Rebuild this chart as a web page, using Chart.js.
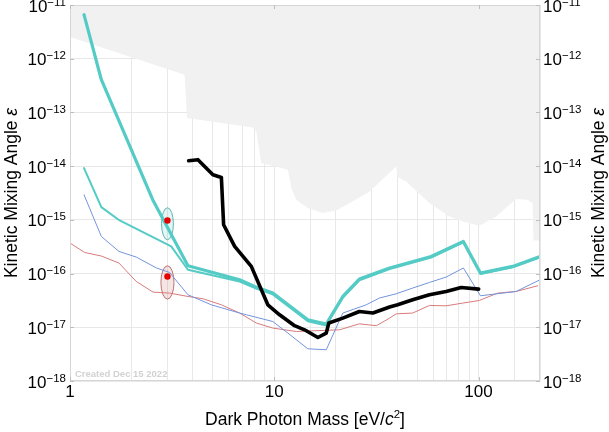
<!DOCTYPE html>
<html><head><meta charset="utf-8">
<script src="https://cdn.jsdelivr.net/npm/chart.js@4.4.0/dist/chart.umd.min.js"></script>
<style>html,body{margin:0;padding:0;background:#fff}</style>
</head><body>
<canvas id="c" width="609" height="432"></canvas>
<script>
// ---------- data ----------
const xTickValues = [1, 10, 100];
const yTickExponents = [-18, -17, -16, -15, -14, -13, -12, -11];
const watermarkText = "Created Dec 15 2022";

// excluded region boundary (filled up to top)
const excludedX = [1, 3.64, 3.74, 7.86, 8.17, 8.64, 11.66, 12.11, 12.81, 14.6, 17.29, 20.1, 23.4, 29.3, 39.5, 40.2, 44.2, 57.5, 72.1, 83.7, 101, 122, 152.8, 174, 184, 185.6, 200];
const excludedY = [2.54e-12, 5.04e-13, 7.87e-14, 5.26e-14, 4.43e-14, 1.14e-14, 8.57e-15, 3.91e-15, 2.37e-15, 1.66e-15, 1.34e-15, 1.50e-15, 2.06e-15, 3.38e-15, 9.87e-15, 6.27e-15, 5.19e-15, 2.06e-15, 1.16e-15, 9.33e-16, 7.76e-16, 1.16e-15, 2.44e-15, 2.37e-15, 2.06e-15, 4.13e-16, 4.13e-16];

// thick cyan projection
const cyanThickX = [1.171, 1.424, 2.54, 3.78, 6.77, 8.01, 9.84, 14.6, 17.97, 21.66, 26.1, 36.7, 58.6, 84.3, 102.2, 147, 200];
const cyanThickY = [6.6e-12, 4.06e-13, 2.37e-15, 1.40e-16, 7.67e-17, 5.75e-17, 4.33e-17, 1.38e-17, 1.15e-17, 3.75e-17, 7.9e-17, 1.27e-16, 2.08e-16, 3.96e-16, 1.02e-16, 1.36e-16, 2.08e-16];

// thin cyan projection
const cyanThinX = [1.171, 1.424, 1.75, 3.13, 3.78, 6.77, 8.01, 9.84, 14.6, 17.97, 21.66, 26.1, 36.7, 58.6, 84.3, 102.2, 147, 200];
const cyanThinY = [9.2e-15, 1.73e-15, 9.75e-16, 3.2e-16, 1.18e-16, 7.1e-17, 5.4e-17, 4.1e-17, 1.3e-17, 1.08e-17, 3.55e-17, 7.5e-17, 1.21e-16, 1.98e-16, 3.8e-16, 9.8e-17, 1.31e-16, 2.0e-16];

// black limit
const blackX = [3.81, 4.23, 5.01, 5.51, 5.65, 6.40, 7.72, 9.30, 10.62, 12.57, 14.07, 16.35, 17.97, 18.5, 21.66, 26.1, 30.4, 36.7, 40.2, 47.6, 57.5, 69.4, 82.2, 100.2];
const blackY = [1.26e-14, 1.32e-14, 6.92e-15, 6.16e-15, 8.1e-16, 3.2e-16, 1.36e-16, 2.62e-17, 1.71e-17, 1.07e-17, 8.98e-18, 6.46e-18, 7.8e-18, 1.20e-17, 1.48e-17, 1.97e-17, 1.84e-17, 2.38e-17, 2.62e-17, 3.25e-17, 4.03e-17, 4.64e-17, 5.5e-17, 5.14e-17];

// blue thin line
const blueX = [1.171, 1.424, 1.737, 2.11, 2.65, 3.07, 3.78, 4.92, 6.77, 7.30, 9.84, 11.66, 14.6, 17.97, 21.66, 28.2, 32.7, 39.5, 47.6, 57.5, 69.4, 84.3, 102.2, 152.8, 200];
const blueY = [2.93e-15, 4.91e-16, 2.58e-16, 2.03e-16, 1.27e-16, 1.05e-16, 4.03e-17, 2.62e-17, 1.84e-17, 1.71e-17, 1.28e-17, 7.8e-18, 3.98e-18, 3.81e-18, 1.84e-17, 2.62e-17, 3.5e-17, 4.2e-17, 5.37e-17, 6.83e-17, 8.6e-17, 1.27e-16, 3.86e-17, 4.64e-17, 7.67e-17];

// red thin line
const redX = [1, 1.18, 1.424, 1.737, 2.11, 2.55, 3.07, 3.78, 4.47, 5.51, 6.77, 8.17, 9.84, 12.81, 20.9, 26.1, 31.6, 36.7, 39.5, 47.6, 57.5, 69.4, 83.7, 101, 124, 152.8, 195];
const redY = [3.70e-16, 2.47e-16, 2.12e-16, 1.57e-16, 7.13e-17, 4.52e-17, 4.33e-17, 3.75e-17, 3.40e-17, 2.62e-17, 1.84e-17, 1.20e-17, 9.67e-18, 8.35e-18, 8.98e-18, 1.16e-17, 1.07e-17, 1.48e-17, 1.78e-17, 1.84e-17, 2.55e-17, 2.51e-17, 2.82e-17, 3.16e-17, 4.33e-17, 4.64e-17, 5.93e-17];

// signal points and their ellipses
const dotX = [3.0, 3.0];
const dotY = [9.75e-16, 8.8e-17];
const ellipseCenterX = [3.0, 3.0];
const ellipseCenterY = [8.45e-16, 6.84e-17];
const ellipseHalfWidthDex = [0.029, 0.032];
const ellipseHalfHeightDex = [0.298, 0.310];

// ---------- helpers ----------
const zip = (xs, ys) => xs.map((x, i) => ({x: x, y: ys[i]}));
const FONT = '"Liberation Sans", Arial, Helvetica, sans-serif';
const isDecade = v => { const l = Math.log10(v); return Math.abs(l - Math.round(l)) < 1e-6; };

function drawPow(ctx, x, y, exp, align) {
  const base = '10', sup = '\u2212' + Math.abs(exp);
  ctx.font = '17px ' + FONT;
  const wb = ctx.measureText(base).width;
  ctx.font = '11.5px ' + FONT;
  const ws = ctx.measureText(sup).width;
  let sx = align === 'right' ? x - wb - ws : x;
  ctx.textAlign = 'left';
  ctx.textBaseline = 'alphabetic';
  ctx.font = '17px ' + FONT;
  ctx.fillText(base, sx, y + 6.5);
  ctx.font = '11.5px ' + FONT;
  ctx.fillText(sup, sx + wb, y + 0.5);
}

function drawYTitle(ctx, cx, cy) {
  ctx.save();
  ctx.translate(cx, cy);
  ctx.rotate(-Math.PI / 2);
  const a = 'Kinetic Mixing Angle ', b = '\u03B5';
  ctx.font = '17.5px ' + FONT;
  const wa = ctx.measureText(a).width;
  ctx.font = 'italic 17.5px ' + FONT;
  const wb = ctx.measureText(b).width;
  const sx = -(wa + wb) / 2;
  ctx.textAlign = 'left';
  ctx.textBaseline = 'alphabetic';
  ctx.font = '17.5px ' + FONT;
  ctx.fillText(a, sx, 0);
  ctx.font = 'italic 17.5px ' + FONT;
  ctx.fillText(b, sx + wa, 0);
  ctx.restore();
}

const decor = {
  id: 'decor',
  beforeDatasetsDraw(chart) {
    const ctx = chart.ctx, xs = chart.scales.x, ys = chart.scales.y;
    const fills = ['rgba(82,201,195,0.16)', 'rgba(190,95,95,0.16)'];
    const strokes = ['rgba(70,170,165,0.85)', 'rgba(175,95,95,0.85)'];
    ctx.save();
    for (let i = 0; i < ellipseCenterX.length; i++) {
      const cx = xs.getPixelForValue(ellipseCenterX[i]);
      const cy = ys.getPixelForValue(ellipseCenterY[i]);
      const rx = xs.getPixelForValue(ellipseCenterX[i] * Math.pow(10, ellipseHalfWidthDex[i])) - cx;
      const ry = cy - ys.getPixelForValue(ellipseCenterY[i] * Math.pow(10, ellipseHalfHeightDex[i]));
      ctx.beginPath();
      ctx.ellipse(cx, cy, rx, ry, 0, 0, Math.PI * 2);
      ctx.fillStyle = fills[i];
      ctx.fill();
      ctx.lineWidth = 1;
      ctx.strokeStyle = strokes[i];
      ctx.stroke();
    }
    ctx.restore();
  },
  afterDatasetsDraw(chart) {
    const ctx = chart.ctx, a = chart.chartArea, xs = chart.scales.x, ys = chart.scales.y;
    ctx.save();
    ctx.strokeStyle = '#d6d6d6';
    ctx.lineWidth = 1;
    ctx.strokeRect(a.left + 0.5, a.top + 0.5, a.right - a.left - 1, a.bottom - a.top - 1);
    ctx.strokeStyle = '#bdbdbd';
    ctx.beginPath();
    xTickValues.forEach(v => {
      const px = Math.round(xs.getPixelForValue(v)) + 0.5;
      ctx.moveTo(px, a.top); ctx.lineTo(px, a.top + 4);
      ctx.moveTo(px, a.bottom); ctx.lineTo(px, a.bottom - 4);
    });
    yTickExponents.forEach(e => {
      const py = Math.round(ys.getPixelForValue(Math.pow(10, e))) + 0.5;
      ctx.moveTo(a.left, py); ctx.lineTo(a.left + 4, py);
      ctx.moveTo(a.right, py); ctx.lineTo(a.right - 4, py);
    });
    ctx.stroke();
    // watermark
    ctx.fillStyle = '#d2d2d2';
    ctx.font = 'bold 9.5px ' + FONT;
    ctx.textAlign = 'left';
    ctx.textBaseline = 'alphabetic';
    ctx.fillText(watermarkText, a.left + 5, a.bottom - 4);
    ctx.restore();
  },
  afterDraw(chart) {
    const ctx = chart.ctx, a = chart.chartArea, xs = chart.scales.x, ys = chart.scales.y;
    ctx.save();
    ctx.fillStyle = '#000';
    yTickExponents.forEach(e => {
      const py = ys.getPixelForValue(Math.pow(10, e));
      drawPow(ctx, a.left - 4, py, e, 'right');
      drawPow(ctx, a.right + 3, py, e, 'left');
    });
    ctx.font = '17px ' + FONT;
    ctx.textAlign = 'center';
    ctx.textBaseline = 'alphabetic';
    xTickValues.forEach(v => {
      ctx.fillText(String(v), xs.getPixelForValue(v), a.bottom + 16);
    });
    // x title
    const t1 = 'Dark Photon Mass [eV/', t2 = 'c', t3 = '2', t4 = ']';
    ctx.font = '17.5px ' + FONT; const w1 = ctx.measureText(t1).width, w4 = ctx.measureText(t4).width;
    ctx.font = 'italic 17.5px ' + FONT; const w2 = ctx.measureText(t2).width;
    ctx.font = '11.5px ' + FONT; const w3 = ctx.measureText(t3).width;
    const cx = (a.left + a.right) / 2, by = a.bottom + 44;
    let sx = cx - (w1 + w2 + w3 + w4) / 2;
    ctx.textAlign = 'left';
    ctx.font = '17.5px ' + FONT; ctx.fillText(t1, sx, by); sx += w1;
    ctx.font = 'italic 17.5px ' + FONT; ctx.fillText(t2, sx, by); sx += w2;
    ctx.font = '11.5px ' + FONT; ctx.fillText(t3, sx, by - 7); sx += w3;
    ctx.font = '17.5px ' + FONT; ctx.fillText(t4, sx, by);
    const cy = (a.top + a.bottom) / 2;
    drawYTitle(ctx, 16.5, cy);
    drawYTitle(ctx, 604, cy);
    ctx.restore();
  }
};

const lineDefaults = {pointRadius: 0, pointHoverRadius: 0, tension: 0, fill: false, borderJoinStyle: 'round', borderCapStyle: 'round'};

new Chart(document.getElementById('c'), {
  type: 'line',
  data: {
    datasets: [
      {label: 'signal', type: 'scatter', data: zip(dotX, dotY), pointRadius: 3.2, pointBackgroundColor: '#e60000', pointBorderWidth: 0, borderColor: '#e60000', showLine: false, order: 0},
      Object.assign({label: 'black', data: zip(blackX, blackY), borderColor: '#000000', borderWidth: 3.6, order: 1}, lineDefaults),
      Object.assign({label: 'cyan thick', data: zip(cyanThickX, cyanThickY), borderColor: '#55cbc5', borderWidth: 3.2, order: 2}, lineDefaults),
      Object.assign({label: 'cyan thin', data: zip(cyanThinX, cyanThinY), borderColor: '#55cbc5', borderWidth: 2, order: 3}, lineDefaults),
      Object.assign({label: 'blue', data: zip(blueX, blueY), borderColor: '#7394dc', borderWidth: 1, order: 4}, lineDefaults),
      Object.assign({label: 'red', data: zip(redX, redY), borderColor: '#d97b7b', borderWidth: 1, order: 5}, lineDefaults),
      Object.assign({}, lineDefaults, {label: 'excluded', data: zip(excludedX, excludedY), borderWidth: 0, borderColor: 'rgba(0,0,0,0)', backgroundColor: '#f1f1f1', fill: 'end', order: 6})
    ]
  },
  options: {
    responsive: false,
    animation: false,
    events: [],
    layout: {padding: {left: 70, right: 69, top: 5, bottom: 51}},
    plugins: {legend: {display: false}, tooltip: {enabled: false}},
    scales: {
      x: {
        type: 'logarithmic', min: 1, max: 200, position: 'bottom',
        ticks: {display: false},
        grid: {color: '#e8e8e8', lineWidth: 1, drawTicks: false},
        border: {display: false},
        afterFit(s) { s.height = 0; }
      },
      y: {
        type: 'logarithmic', min: 1e-18, max: 1e-11, position: 'left',
        ticks: {display: false},
        grid: {color: c => (c.tick && isDecade(c.tick.value)) ? '#e8e8e8' : 'rgba(0,0,0,0)', lineWidth: 1, drawTicks: false},
        border: {display: false},
        afterFit(s) { s.width = 0; }
      }
    }
  },
  plugins: [decor]
});
</script>
</body></html>
